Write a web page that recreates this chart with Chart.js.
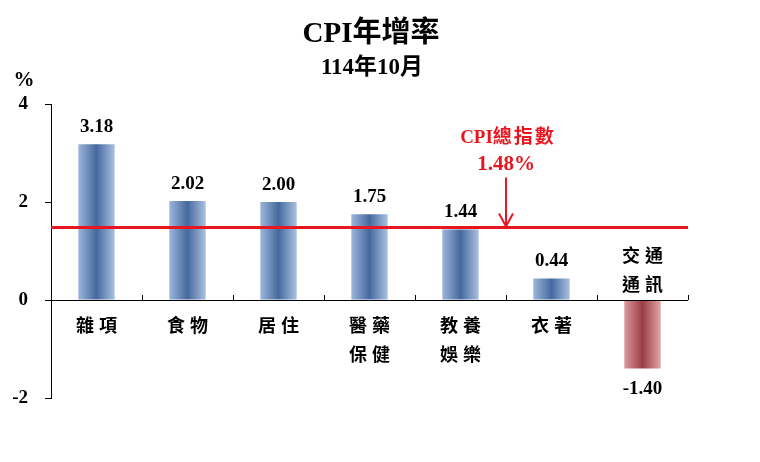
<!DOCTYPE html>
<html>
<head>
<meta charset="utf-8">
<script src="https://cdn.jsdelivr.net/npm/chart.js@4/dist/chart.umd.min.js"></script>
<style>
html,body{margin:0;padding:0;background:#fff;}
canvas{display:block;}
</style>
</head>
<body>
<canvas id="c" width="760" height="462"></canvas>
<script>
const categories = [['雜項'], ['食物'], ['居住'], ['醫藥', '保健'], ['教養', '娛樂'], ['衣著'], ['交通', '通訊']];
const values = [3.18, 2.02, 2.00, 1.75, 1.44, 0.44, -1.40];
const yTicks = [-2, 0, 2, 4];
const cpiTotal = 1.48;
const titleText = 'CPI年增率';
const subtitleText = '114年10月';
const cpiLabelLatin = 'CPI';
const cpiLabelCJK = '總指數';

const SERIF = "'Liberation Serif', 'Noto Sans CJK TC', serif";
const CJK = "'Noto Sans CJK TC', sans-serif";
const BAR_PCT = 0.4;

function barGradient(ctx) {
  const chart = ctx.chart;
  const neg = values[ctx.dataIndex] < 0;
  const xs = chart.scales && chart.scales.x;
  if (!chart.chartArea || !xs) return neg ? '#b05a60' : '#5a7db0';
  const cx = xs.getPixelForValue(ctx.dataIndex);
  const w = xs.width / categories.length * BAR_PCT;
  const g = chart.ctx.createLinearGradient(cx - w / 2, 0, cx + w / 2, 0);
  if (neg) {
    g.addColorStop(0, '#dc9a9c');
    g.addColorStop(0.5, '#9a3d45');
    g.addColorStop(1, '#e2a6a8');
  } else {
    g.addColorStop(0, '#9db6da');
    g.addColorStop(0.5, '#45699e');
    g.addColorStop(1, '#aac1e1');
  }
  return g;
}

const overlay = {
  id: 'overlay',
  afterDatasetsDraw(chart) {
    const ctx = chart.ctx;
    const xs = chart.scales.x, ys = chart.scales.y;
    const area = chart.chartArea;
    const y0 = ys.getPixelForValue(0);
    ctx.save();
    // zero line with upward ticks at category boundaries
    ctx.strokeStyle = '#000';
    ctx.lineWidth = 1;
    ctx.beginPath();
    ctx.moveTo(area.left, y0 + 0.5);
    ctx.lineTo(area.right, y0 + 0.5);
    for (let i = 1; i <= categories.length; i++) {
      const bx = Math.round(xs.getPixelForValue(i - 0.5)) + 0.5;
      ctx.moveTo(bx, y0);
      ctx.lineTo(bx, y0 - 5);
    }
    ctx.stroke();

    // CPI total line
    const yc = ys.getPixelForValue(cpiTotal);
    ctx.strokeStyle = '#e8161e';
    ctx.lineWidth = 3;
    ctx.beginPath();
    ctx.moveTo(area.left, yc);
    ctx.lineTo(area.right, yc);
    ctx.stroke();

    // arrow + annotation between 5th and 6th category
    const ax = xs.getPixelForValue(4.5);
    ctx.lineWidth = 2;
    ctx.beginPath();
    ctx.moveTo(ax, yc - 50);
    ctx.lineTo(ax, yc - 1);
    ctx.moveTo(ax - 7, yc - 14);
    ctx.lineTo(ax, yc - 1);
    ctx.lineTo(ax + 7, yc - 14);
    ctx.stroke();
    ctx.fillStyle = '#e8161e';
    ctx.textBaseline = 'middle';
    ctx.font = 'bold 19px ' + SERIF;
    ctx.letterSpacing = '0px';
    const wLatin = ctx.measureText(cpiLabelLatin).width;
    ctx.letterSpacing = '2px';
    const wCJK = ctx.measureText(cpiLabelCJK).width - 2;
    const startX = ax + 1 - (wLatin + wCJK) / 2;
    ctx.textAlign = 'left';
    ctx.letterSpacing = '0px';
    ctx.fillText(cpiLabelLatin, startX, yc - 89);
    ctx.letterSpacing = '2px';
    ctx.fillText(cpiLabelCJK, startX + wLatin, yc - 89);
    ctx.letterSpacing = '0px';
    ctx.textAlign = 'center';
    ctx.font = 'bold 21px ' + SERIF;
    ctx.fillText(cpiTotal.toFixed(2) + '%', ax, yc - 63);

    // value labels and category labels
    ctx.fillStyle = '#000';
    values.forEach((v, i) => {
      const cx = xs.getPixelForValue(i);
      const yv = ys.getPixelForValue(v);
      ctx.font = 'bold 19px ' + SERIF;
      ctx.letterSpacing = '0px';
      if (v >= 0) ctx.fillText(v.toFixed(2), cx, yv - 17);
      else ctx.fillText(v.toFixed(2), cx, yv + 20);
      ctx.font = 'bold 18px ' + CJK;
      ctx.letterSpacing = '5px';
      const lines = categories[i];
      lines.forEach((ln, k) => {
        let ly;
        if (v >= 0) ly = y0 + 25 + k * 29;
        else ly = y0 - 16 - (lines.length - 1 - k) * 29;
        ctx.fillText(ln, cx + 2.5, ly);
      });
    });
    ctx.letterSpacing = '0px';

    // titles and unit
    ctx.font = 'bold 29px ' + SERIF;
    ctx.fillText(titleText, 371, 35);
    ctx.font = 'bold 23px ' + SERIF;
    ctx.fillText(subtitleText, 372, 68);
    ctx.font = 'bold 21px ' + SERIF;
    ctx.fillText('%', 24, 81);
    ctx.restore();
  }
};

new Chart(document.getElementById('c'), {
  type: 'bar',
  data: {
    labels: categories.map(c => c.join('')),
    datasets: [{
      data: values,
      backgroundColor: barGradient,
      borderWidth: 0,
      barPercentage: BAR_PCT,
      categoryPercentage: 1
    }]
  },
  options: {
    responsive: false,
    animation: false,
    devicePixelRatio: 1,
    layout: { padding: { top: 104, bottom: 64, left: 0, right: 72 } },
    plugins: { legend: { display: false }, tooltip: { enabled: false }, title: { display: false } },
    scales: {
      x: { display: false, offset: true },
      y: {
        min: -2, max: 4,
        afterBuildTicks(scale) { scale.ticks = yTicks.map(v => ({ value: v })); },
        afterFit(scale) { scale.width = 51; },
        ticks: { color: '#000', padding: 17, font: { family: SERIF, size: 19, weight: 'bold' } },
        grid: { drawOnChartArea: false, tickLength: 6, color: '#000' },
        border: { display: true, color: '#000', width: 1 }
      }
    }
  },
  plugins: [overlay]
});
</script>
</body>
</html>
